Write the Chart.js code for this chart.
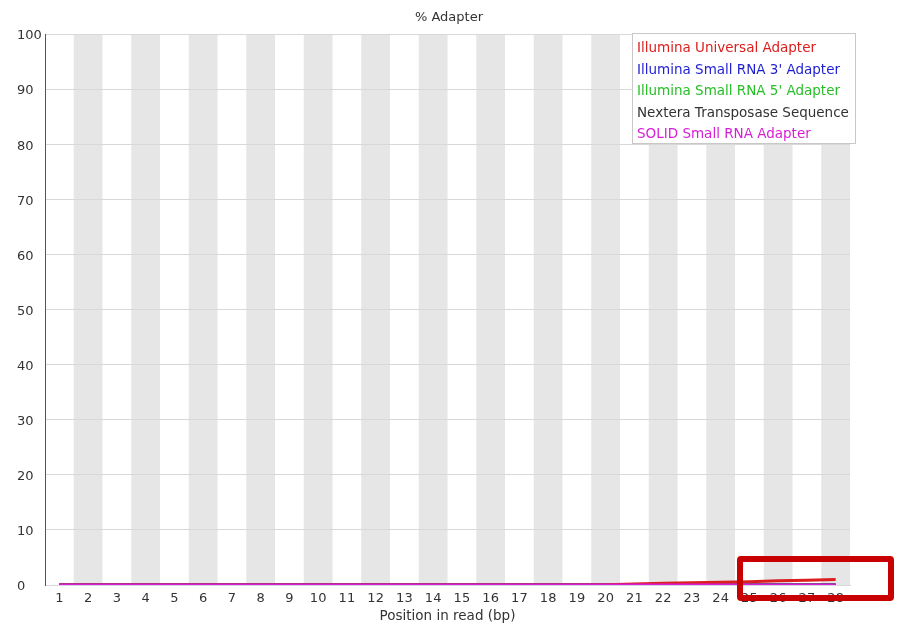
<!DOCTYPE html>
<html>
<head>
<meta charset="utf-8">
<script src="https://cdn.jsdelivr.net/npm/chart.js@4"></script>
<style>
    html, body { margin: 0; padding: 0; background: #ffffff; }
    #wrap { position: relative; width: 901px; height: 626px; }
    #marker {
        position: absolute; left: 737px; top: 556px; width: 145px; height: 33px;
        border: 6px solid #c80000; border-radius: 4px;
    }
</style>
</head>
<body>
<div id="wrap">
    <canvas id="chartAdapter" width="901" height="626"></canvas>
    <div id="marker"></div>
</div>
<script>
// x軸のラベル（リード上の位置）
var positions = ['1','2','3','4','5','6','7','8','9','10','11','12','13','14',
    '15','16','17','18','19','20','21','22','23','24','25','26','27','28'];

var y_ticks = [0, 10, 20, 30, 40, 50, 60, 70, 80, 90, 100];

// 各アダプターの割合(%)
var illumina_universal = [0, 0, 0, 0, 0, 0, 0, 0, 0, 0, 0, 0, 0, 0,
    0, 0, 0, 0, 0, 0.05, 0.2, 0.3, 0.4, 0.5, 0.6, 0.75, 0.85, 1.0];
var illumina_small_3 = [0, 0, 0, 0, 0, 0, 0, 0, 0, 0, 0, 0, 0, 0,
    0, 0, 0, 0, 0, 0, 0, 0, 0, 0, 0, 0, 0, 0];
var illumina_small_5 = [0, 0, 0, 0, 0, 0, 0, 0, 0, 0, 0, 0, 0, 0,
    0, 0, 0, 0, 0, 0, 0, 0, 0, 0, 0, 0, 0, 0];
var nextera = [0, 0, 0, 0, 0, 0, 0, 0, 0, 0, 0, 0, 0, 0,
    0, 0, 0, 0, 0, 0, 0, 0, 0, 0, 0, 0, 0, 0];
var solid_small = [0, 0, 0, 0, 0, 0, 0, 0, 0, 0, 0, 0, 0, 0,
    0, 0, 0, 0, 0, 0, 0, 0, 0, 0, 0, 0, 0, 0];

var font_family = '"DejaVu Sans", sans-serif';

// 偶数番目の位置に灰色の帯を描く
var bandPlugin = {
    id: 'bands',
    beforeDraw: function (chart) {
        var ctx = chart.ctx;
        var area = chart.chartArea;
        var x = chart.scales.x;
        var w = (area.right - area.left) / positions.length;
        ctx.save();
        ctx.fillStyle = '#e6e6e6';
        positions.forEach(function (p, i) {
            if (i % 2 === 1) {
                var cx = x.getPixelForValue(i);
                ctx.fillRect(cx - w / 2, area.top, w, area.bottom - area.top);
            }
        });
        ctx.restore();
    }
};

// タイトルと凡例（枠つき、色つき文字のみ）
var legendPlugin = {
    id: 'boxLegend',
    afterDraw: function (chart) {
        var ctx = chart.ctx;
        ctx.save();
        ctx.font = '13px ' + font_family;
        ctx.textAlign = 'center';
        ctx.textBaseline = 'middle';
        ctx.fillStyle = '#333333';
        ctx.fillText('% Adapter', 449, 18);

        var bx = 632, by = 33, bw = 223, bh = 110;
        ctx.fillStyle = '#ffffff';
        ctx.fillRect(bx, by, bw, bh);
        ctx.strokeStyle = '#c8c8c8';
        ctx.lineWidth = 1;
        ctx.strokeRect(bx + 0.5, by + 0.5, bw, bh);
        ctx.font = '13.5px ' + font_family;
        ctx.textAlign = 'left';
        chart.data.datasets.forEach(function (ds, i) {
            ctx.fillStyle = ds.borderColor;
            ctx.fillText(ds.label, bx + 5, by + 15.5 + i * 21.5);
        });
        ctx.restore();
    }
};

var ctx_adapter = document.getElementById('chartAdapter').getContext('2d');

var adapter_chart = new Chart(ctx_adapter, {
    type: 'line',
    data: {
        labels: positions,
        datasets: [
            { label: 'Illumina Universal Adapter', data: illumina_universal, borderColor: 'rgb(220, 30, 30)', order: 1 },
            { label: 'Illumina Small RNA 3\' Adapter', data: illumina_small_3, borderColor: 'rgb(30, 30, 210)', order: 4 },
            { label: 'Illumina Small RNA 5\' Adapter', data: illumina_small_5, borderColor: 'rgb(40, 190, 40)', order: 3 },
            { label: 'Nextera Transposase Sequence', data: nextera, borderColor: 'rgb(50, 50, 50)', order: 2 },
            { label: 'SOLID Small RNA Adapter', data: solid_small, borderColor: 'rgb(215, 30, 215)', order: 0 }
        ]
    },
    plugins: [bandPlugin, legendPlugin],
    options: {
        responsive: false,
        animation: false,
        layout: { padding: { top: 34, right: 51, left: 17, bottom: 0 } },
        elements: {
            point: { radius: 0 },
            line: { borderWidth: 3, tension: 0 }
        },
        plugins: {
            legend: { display: false },
            title: { display: false },
            tooltip: { enabled: false }
        },
        scales: {
            x: {
                offset: true,
                grid: { display: false, drawTicks: false },
                border: { display: true, color: '#d8d8d8' },
                ticks: { color: '#333333', padding: 6, maxRotation: 0, autoSkip: false,
                    font: { family: font_family, size: 13 } },
                title: { display: true, text: 'Position in read (bp)', color: '#333333', padding: 1,
                    font: { family: font_family, size: 13.5 } },
                afterFit: function (scale) { scale.height = 41; }
            },
            y: {
                min: 0,
                max: 100,
                afterBuildTicks: function (scale) {
                    scale.ticks = y_ticks.map(function (v) { return { value: v }; });
                },
                grid: { color: '#d8d8d8', drawTicks: false },
                border: { display: true, color: '#555555', width: 1 },
                ticks: { color: '#333333', padding: 6, crossAlign: 'far', labelOffset: 2,
                    font: { family: font_family, size: 13 } },
                afterFit: function (scale) { scale.width = 28; }
            }
        }
    }
});
</script>
</body>
</html>
